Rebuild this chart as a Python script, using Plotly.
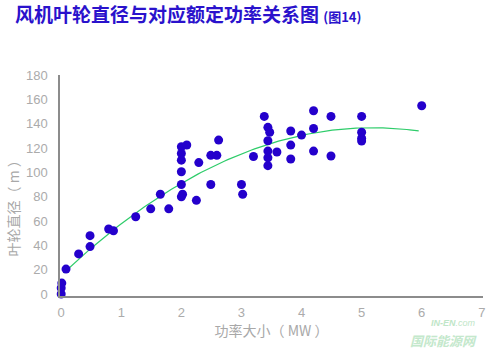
import numpy as np
import plotly.graph_objects as go

# Rated power (MW) and rotor diameter (m) of each turbine model
power_mw = [0.0, 0.0, 0.01, 0.08, 0.29, 0.48, 0.48, 0.79, 0.87, 1.24,
            1.49, 1.79, 1.65, 2.0, 2.09, 2.0, 2.0, 2.0, 2.0, 2.02,
            2.0, 2.25, 2.29, 2.49, 2.59, 2.62, 2.49, 3.0, 3.02, 3.2,
            3.38, 3.44, 3.47, 3.44, 3.44, 3.59, 3.44, 3.44, 3.82, 3.82,
            3.82, 4.0, 4.2, 4.2, 4.2, 4.49, 4.49, 5.0, 5.0, 5.0,
            5.0, 6.0]
diameter_m = [0, 5, 9, 20.5, 33, 39, 48, 53.5, 52, 63.5,
              70, 70, 82, 121, 122.5, 115.5, 110, 100.5, 90, 82,
              80, 77, 108, 114, 114, 126.5, 90, 90, 82, 113,
              146, 137, 133, 126, 117.5, 116.7, 112, 105.5, 134, 122.4,
              111, 130.6, 150.6, 136, 117.5, 146, 113.4, 146, 133, 128,
              125.7, 154.7]

x_ticks = [0, 1, 2, 3, 4, 5, 6, 7]
y_ticks = [0, 20, 40, 60, 80, 100, 120, 140, 160, 180]

# Second-order polynomial trend line fitted to the points
coef = np.polyfit(power_mw, diameter_m, 2)
trend_x = np.linspace(0.04, 5.95, 120)
trend_y = np.polyval(coef, trend_x)

fig = go.Figure()
fig.add_trace(go.Scatter(
    x=trend_x, y=trend_y, mode="lines",
    line=dict(color="#2ecc6a", width=1.2), hoverinfo="skip", showlegend=False,
))
fig.add_trace(go.Scatter(
    x=power_mw, y=diameter_m, mode="markers", cliponaxis=False,
    marker=dict(color="#2400cc", size=9, line=dict(width=0)),
    showlegend=False,
))

axis_font = dict(family="Liberation Sans, Arial, sans-serif", size=13, color="#ababab")
title_font = dict(family="Noto Sans CJK SC, sans-serif", size=14, color="#a8a8a8")

fig.update_xaxes(
    range=[-0.02, 7.02], tickvals=x_ticks, ticktext=[str(v) for v in x_ticks],
    showgrid=False, zeroline=False, showline=True, linecolor="#8c8c8c", linewidth=1.5,
    ticks="", tickfont=axis_font, ticklabelstandoff=4,
    title=dict(text="功率大小（ MW ）", font=title_font, standoff=7),
)
fig.update_yaxes(
    range=[-1.6, 180], tickvals=y_ticks, ticktext=[str(v) for v in y_ticks],
    showgrid=False, zeroline=False, showline=True, linecolor="#8c8c8c", linewidth=1.5,
    ticks="", tickfont=axis_font, ticklabelstandoff=8,
)

fig.update_layout(
    width=498, height=349,
    margin=dict(l=60, r=15, t=75, b=53),
    paper_bgcolor="white", plot_bgcolor="white",
    annotations=[
        dict(
            text="<b>风机叶轮直径与对应额定功率关系图</b> <b><span style='font-size:13px'>(图14)</span></b>",
            xref="paper", yref="paper", x=0, y=1, xanchor="left", yanchor="bottom",
            showarrow=False, font=dict(family="Noto Sans CJK SC, sans-serif", size=19, color="#2a12cc"),
            xshift=-47, yshift=46,
        ),
        # vertical axis title
        dict(
            text="叶轮直径（ m ）", textangle=-90,
            xref="paper", yref="paper", x=0, y=0.5, xanchor="center", yanchor="middle",
            xshift=-48, yshift=-20, showarrow=False, font=title_font,
        ),
        # site watermark
        dict(
            text="<i><b>IN-EN</b>.com</i>", xref="paper", yref="paper", x=1, y=0,
            xanchor="left", yanchor="middle", xshift=-53, yshift=-27,
            showarrow=False, borderpad=0,
            font=dict(family="Liberation Sans, sans-serif", size=9, color="#bfe6c8"),
        ),
        dict(
            text="<i><b>国际能源网</b></i>", xref="paper", yref="paper", x=1, y=0,
            xanchor="left", yanchor="middle", xshift=-74, yshift=-44,
            showarrow=False, borderpad=0,
            font=dict(family="Noto Sans CJK SC, sans-serif", size=13, color="#c4e8cc"),
        ),
    ],
)

fig.write_html("out.html")
